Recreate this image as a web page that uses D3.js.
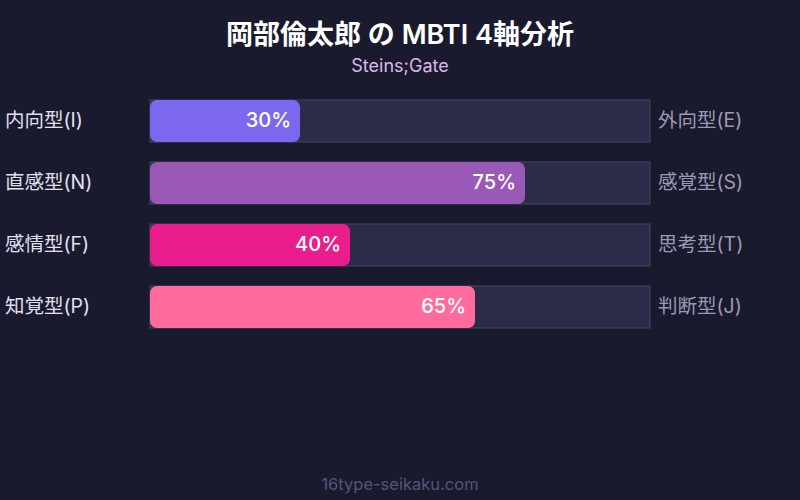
<!DOCTYPE html>
<html>
<head>
<meta charset="utf-8">
<script src="https://cdn.jsdelivr.net/npm/d3@7"></script>
<style>
  body { margin: 0; background: #1a1a2e; }
  text { font-family: Inter, "Noto Sans CJK JP", sans-serif; }
</style>
</head>
<body>
<div id="chart"></div>
<script>
// MBTI axes: left pole, right pole, percent toward left pole
const leftLabels = ["内向型(I)", "直感型(N)", "感情型(F)", "知覚型(P)"];
const rightLabels = ["外向型(E)", "感覚型(S)", "思考型(T)", "判断型(J)"];
const values = [30, 75, 40, 65];
const colors = ["#7b68ee", "#9b59b6", "#e91e8c", "#ff6b9d"];

const width = 800, height = 500;
var margin = { top: 100, left: 150, right: 150 };

const svg = d3.select("#chart")
  .append("svg")
  .attr("width", width)
  .attr("height", height);

svg.append("rect")
  .attr("width", width)
  .attr("height", height)
  .attr("fill", "#1a1a2e");

// titles
svg.append("text")
  .attr("x", width / 2)
  .attr("y", 44)
  .attr("text-anchor", "middle")
  .attr("fill", "#ffffff")
  .attr("font-size", 27)
  .attr("font-weight", 600)
  .text("岡部倫太郎 の MBTI 4軸分析");

svg.append("text")
  .attr("x", width / 2)
  .attr("y", 72)
  .attr("text-anchor", "middle")
  .attr("fill", "#dcb8e6")
  .attr("font-size", 18)
  .text("Steins;Gate");

var xScale = d3.scaleLinear()
  .domain([0, 100])
  .range([margin.left, width - margin.right]);

// 42px bars on a 62px step
var yScale = d3.scaleBand()
  .domain(leftLabels)
  .range([margin.top, margin.top + 62 * leftLabels.length])
  .paddingInner(20 / 62)
  .paddingOuter(10 / 62)
  .align(0);

var rows = svg.selectAll(".row")
  .data(leftLabels)
  .enter()
  .append("g")
  .attr("class", "row");

// background track
rows.append("rect")
  .attr("x", xScale(0))
  .attr("y", (d) => yScale(d))
  .attr("width", xScale(100) - xScale(0))
  .attr("height", yScale.bandwidth())
  .attr("fill", "#2c2b4a")
  .attr("stroke", "#45446a")
  .attr("stroke-width", 1);

// value bar
rows.append("rect")
  .attr("x", xScale(0))
  .attr("y", (d) => yScale(d))
  .attr("width", (d, i) => xScale(values[i]) - xScale(0))
  .attr("height", yScale.bandwidth())
  .attr("rx", 7)
  .attr("fill", (d, i) => colors[i]);

// percent labels
rows.append("text")
  .attr("x", (d, i) => xScale(values[i]) - 9)
  .attr("y", (d) => yScale(d) + yScale.bandwidth() / 2)
  .attr("dy", "0.3em")
  .attr("text-anchor", "end")
  .attr("fill", "#ffffff")
  .attr("font-size", 20)
  .attr("font-weight", 500)
  .text((d, i) => values[i] + "%");

// pole labels
rows.append("text")
  .attr("x", 5)
  .attr("y", (d) => yScale(d) + yScale.bandwidth() / 2)
  .attr("dy", "0.3em")
  .attr("fill", "#e0e0f0")
  .attr("font-size", 19.5)
  .text((d) => d);

rows.append("text")
  .attr("x", xScale(100) + 8)
  .attr("y", (d) => yScale(d) + yScale.bandwidth() / 2)
  .attr("dy", "0.3em")
  .attr("fill", "#9a9ab2")
  .attr("font-size", 19.5)
  .text((d, i) => rightLabels[i]);

svg.append("text")
  .attr("x", width / 2)
  .attr("y", 490)
  .attr("text-anchor", "middle")
  .attr("fill", "#55557a")
  .attr("font-size", 16.5)
  .text("16type-seikaku.com");
</script>
</body>
</html>
